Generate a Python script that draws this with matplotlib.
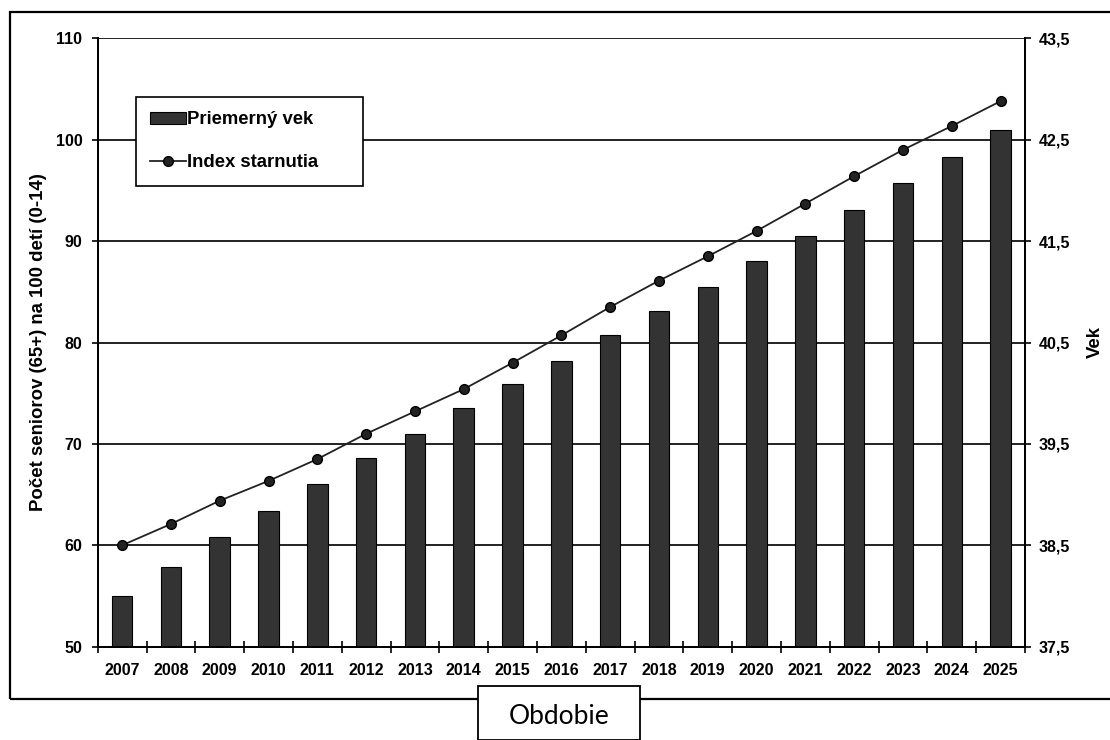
import numpy as np
import matplotlib
matplotlib.use("Agg")
import matplotlib.pyplot as plt
from matplotlib.patches import Rectangle
from matplotlib.ticker import FuncFormatter, FixedLocator

plt.rcParams['font.family'] = ['Liberation Sans', 'DejaVu Sans']
size = 11.5

years = [str(y) for y in range(2007, 2026)]
# Priemerny vek (right axis, years)
priemerny_vek = [38.00, 38.29, 38.58, 38.84, 39.10, 39.36, 39.60, 39.85, 40.09, 40.32,
                 40.57, 40.81, 41.05, 41.30, 41.55, 41.81, 42.07, 42.33, 42.60]
# Index starnutia (left axis, seniors per 100 children)
index_starnutia = [60.0, 62.1, 64.4, 66.35, 68.5, 71.0, 73.2, 75.4, 78.0, 80.7,
                   83.5, 86.1, 88.5, 91.0, 93.7, 96.4, 99.0, 101.35, 103.8]

left_ticks = [50, 60, 70, 80, 90, 100, 110]
right_ticks = [37.5, 38.5, 39.5, 40.5, 41.5, 42.5, 43.5]

fig = plt.figure(figsize=(11.1, 7.4), dpi=100)

# outer frame of the original screenshot
fig.patches.append(Rectangle((10/1110, 1 - 699/740), 1.2, (699 - 12)/740,
                             transform=fig.transFigure, fill=False,
                             edgecolor='black', linewidth=1.6, zorder=0))

ax_bar = fig.add_axes([97.7/1110, 1 - 646.7/740, 927.3/1110, 608.4/740])
ax_line = ax_bar.twinx()

x = np.arange(len(years))
bars = ax_bar.bar(x, priemerny_vek, width=0.42, color='#333333', edgecolor='black',
                  linewidth=0.8, label='Priemerný vek', zorder=2)
ax_bar.set_ylim(37.5, 43.5)
ax_bar.set_xlim(-0.5, len(years) - 0.5)
ax_bar.yaxis.tick_right()
ax_bar.yaxis.set_label_position('right')
ax_bar.set_yticks(right_ticks)
ax_bar.yaxis.set_major_formatter(FuncFormatter(lambda v, p: f"{v:.1f}".replace('.', ',')))
ax_bar.set_axisbelow(True)
ax_bar.grid(axis='y', color='#222222', linewidth=1.4)
ax_bar.set_ylabel('Vek', fontsize=13.4, fontweight='bold')
ax_bar.yaxis.set_label_coords(1.067, 0.5)

line, = ax_line.plot(x, index_starnutia, color='#222222', linewidth=1.3, marker='o',
                     markersize=7, markerfacecolor='#222222', markeredgecolor='black',
                     label='Index starnutia', zorder=3)
ax_line.set_ylim(50, 110)
ax_line.yaxis.tick_left()
ax_line.yaxis.set_label_position('left')
ax_line.set_yticks(left_ticks)
ax_line.set_ylabel('Počet seniorov (65+) na 100 detí (0-14)', fontsize=13.4, fontweight='bold')
ax_line.yaxis.set_label_coords(-0.0547, 0.5)

# x axis: labels at centres, ticks at category boundaries
ax_bar.set_xticks(x)
ax_bar.set_xticklabels(years)
ax_bar.xaxis.set_minor_locator(FixedLocator(np.arange(-0.5, len(years), 1.0)))
ax_bar.tick_params(axis='x', which='major', length=0, pad=12, labelsize=size)
ax_bar.tick_params(axis='x', which='minor', direction='inout', length=9, width=1.2)
ax_bar.tick_params(axis='y', direction='out', length=4, width=1.2, pad=6, labelsize=size)
ax_line.tick_params(axis='y', direction='out', length=4, width=1.2, pad=7, labelsize=size)

for a in (ax_bar, ax_line):
    a.spines['top'].set_visible(False)
    for s in ('left', 'right', 'bottom'):
        a.spines[s].set_linewidth(1.4)
    for lab in a.get_xticklabels() + a.get_yticklabels():
        lab.set_fontweight('bold')

leg = ax_line.legend([bars, line], ['Priemerný vek', 'Index starnutia'],
                     loc='upper left', bbox_to_anchor=(0.041, 0.760, 0.245, 0.144),
                     mode='expand', borderaxespad=0,
                     fancybox=False, framealpha=1, edgecolor='black',
                     prop={'weight': 'bold', 'size': 13.3}, handlelength=1.9,
                     handletextpad=0.1, labelspacing=1.4, borderpad=0.8)
leg.get_frame().set_linewidth(1.2)
leg.set_zorder(5)

# "Obdobie" box at the bottom
fig.patches.append(Rectangle((477.7/1110, 0), (640 - 477.7)/1110, (740 - 685.7)/740,
                             transform=fig.transFigure, facecolor='white',
                             edgecolor='black', linewidth=1.3, zorder=3))
fig.text(559/1110, 1 - 717/740, 'Obdobie', ha='center', va='center',
         fontsize=19, family=['Lato', 'DejaVu Sans'], zorder=4)

fig.savefig('out.png', dpi=100)
